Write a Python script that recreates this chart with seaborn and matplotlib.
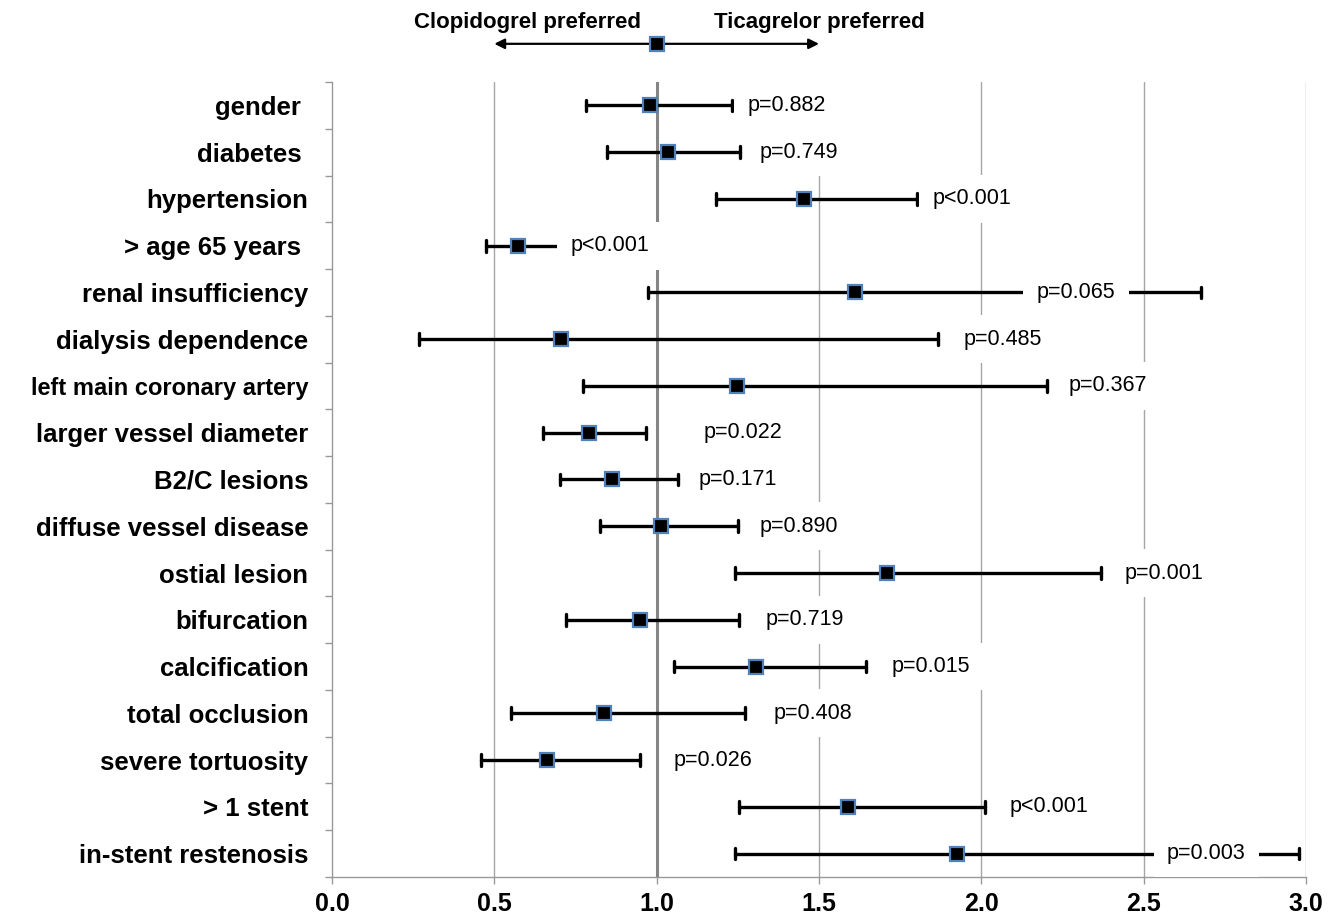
import numpy as np
import pandas as pd
import matplotlib
matplotlib.use("Agg")
import matplotlib.pyplot as plt
import matplotlib.transforms as mtransforms
from matplotlib.ticker import FixedLocator
import seaborn as sns

# Forest plot data (odds ratio with 95% CI)
factors = ["gender ", "diabetes ", "hypertension", "> age 65 years ",
           "renal insufficiency", "dialysis dependence", "left main coronary artery",
           "larger vessel diameter", "B2/C lesions", "diffuse vessel disease",
           "ostial lesion", "bifurcation", "calcification", "total occlusion",
           "severe tortuosity", "> 1 stent", "in-stent restenosis"]
odds = [0.98, 1.034, 1.455, 0.574, 1.61, 0.704, 1.249, 0.792, 0.863, 1.013,
        1.711, 0.949, 1.307, 0.839, 0.662, 1.588, 1.924]
ci_low = [0.783, 0.847, 1.182, 0.473, 0.973, 0.269, 0.773, 0.650, 0.702, 0.827,
          1.240, 0.720, 1.054, 0.552, 0.460, 1.253, 1.242]
ci_high = [1.231, 1.258, 1.801, 0.699, 2.677, 1.866, 2.202, 0.966, 1.065, 1.251,
           2.368, 1.255, 1.644, 1.273, 0.949, 2.011, 2.978]
p_text = ["p=0.882", "p=0.749", "p<0.001", "p<0.001", "p=0.065", "p=0.485",
          "p=0.367", "p=0.022", "p=0.171", "p=0.890", "p=0.001", "p=0.719",
          "p=0.015", "p=0.408", "p=0.026", "p<0.001", "p=0.003"]
p_pos = [1.28, 1.318, 1.85, 0.735, 2.17, 1.944, 2.269, 1.146, 1.128, 1.316,
         2.44, 1.334, 1.724, 1.361, 1.052, 2.088, 2.572]

# long table: lower / estimate / upper per factor -> median = estimate, 100% interval = CI
df = pd.DataFrame({
    "factor": np.repeat(factors, 3),
    "value": np.column_stack([ci_low, odds, ci_high]).ravel(),
})

sns.set_theme(style="white")
plt.rcParams['font.family'] = ['Liberation Sans', 'DejaVu Sans']
plt.rcParams['text.color'] = 'black'

fig = plt.figure(figsize=(13.38, 9.19), dpi=100)
ax = fig.add_axes([0.2481, 0.0457, 0.728, 0.8651])

sns.pointplot(data=df, x="value", y="factor", order=factors,
              estimator="median", errorbar=("pi", 100),
              linestyle="none", marker="s", markersize=10,
              markerfacecolor="black", markeredgecolor="#4f81bd",
              markeredgewidth=1.6, color="black", capsize=0.25,
              err_kws={"linewidth": 2.4, "zorder": 3}, zorder=4, ax=ax)

# grid lines and reference line at 1.0
for gx in [0.5, 1.5, 2.0, 2.5, 3.0]:
    ax.axvline(gx, color="#a6a6a6", lw=1.0, zorder=0.5)
ax.axvline(1.0, color="#858585", lw=2.2, zorder=1)

# p-values with white boxes
for i, (txt, px) in enumerate(zip(p_text, p_pos)):
    ax.text(px, i, txt, ha="left", va="center", fontsize=15.5, color="black", zorder=5,
            bbox=dict(boxstyle="square,pad=0.62", facecolor="white", edgecolor="none"))

ax.set_xlim(0, 3.0)
ax.set_ylim(16.5, -0.5)
ax.set_xticks(np.arange(0, 3.01, 0.5))
ax.set_xticklabels([f"{v:.1f}" for v in np.arange(0, 3.01, 0.5)],
                   fontsize=18, fontweight="bold")
ax.set_yticks(range(len(factors)))
ax.set_yticklabels(factors, fontsize=18.5, fontweight="bold")
for lab in ax.get_yticklabels():
    if lab.get_text().startswith("left main"):
        lab.set_fontsize(17)
ax.yaxis.set_minor_locator(FixedLocator(np.arange(-0.5, 17, 1)))
ax.tick_params(axis="y", which="major", length=0, pad=17, labelcolor="black")
ax.tick_params(axis="y", which="minor", left=True, length=5, color="#999999", width=1)
ax.tick_params(axis="x", bottom=True, length=5, color="#999999", width=1, pad=6,
               labelcolor="black")
ax.set_xlabel("")
ax.set_ylabel("")
for side in ["top", "right"]:
    ax.spines[side].set_visible(False)
for side in ["left", "bottom"]:
    ax.spines[side].set_color("#999999")
    ax.spines[side].set_linewidth(1.0)

# header: preference arrows
trans = mtransforms.blended_transform_factory(ax.transData, ax.transAxes)
arrow_y = 1.048
for end in [0.5, 1.5]:
    ax.annotate("", xy=(end, arrow_y), xytext=(1.0, arrow_y), xycoords=trans,
                textcoords=trans, annotation_clip=False,
                arrowprops=dict(arrowstyle="-|>", color="black", lw=1.6,
                                mutation_scale=15, shrinkA=0, shrinkB=0))
ax.plot([1.0], [arrow_y], transform=trans, marker="s", markersize=10,
        markerfacecolor="black", markeredgecolor="#4f81bd", markeredgewidth=1.6,
        clip_on=False, zorder=6)
ax.text(0.601, 1.068, "Clopidogrel preferred", transform=trans, ha="center",
        va="baseline", fontsize=16, fontweight="bold", color="black")
ax.text(1.502, 1.068, "Ticagrelor preferred", transform=trans, ha="center",
        va="baseline", fontsize=16, fontweight="bold", color="black")

plt.savefig("out.png", dpi=100)
